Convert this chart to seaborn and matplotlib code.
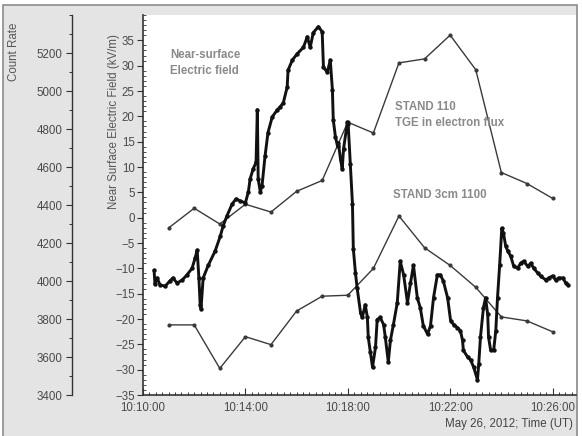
import matplotlib
matplotlib.use("Agg")
import matplotlib.pyplot as plt
import matplotlib.dates as mdates
from matplotlib.patches import Rectangle
from matplotlib.ticker import MultipleLocator
import seaborn as sns
import pandas as pd

# ---------------- data ----------------
day = "2012-05-26 "

efield_time = ["10:10:26","10:10:28","10:10:33","10:10:40","10:10:52","10:11:03","10:11:10","10:11:20",
    "10:11:32","10:11:43","10:11:55","10:12:02","10:12:07","10:12:11","10:12:14","10:12:16","10:12:21",
    "10:12:33","10:12:49","10:13:01","10:13:08","10:13:17","10:13:29","10:13:38","10:13:48","10:14:00",
    "10:14:07","10:14:11","10:14:18","10:14:25","10:14:28","10:14:30","10:14:35","10:14:39","10:14:46",
    "10:14:53","10:15:03","10:15:15","10:15:22","10:15:29","10:15:38","10:15:40","10:15:50","10:16:02",
    "10:16:16","10:16:25","10:16:32","10:16:39","10:16:51","10:17:00","10:17:03","10:17:12","10:17:19",
    "10:17:24","10:17:26","10:17:31","10:17:36","10:17:38","10:17:43","10:17:47","10:17:50","10:17:59",
    "10:18:01","10:18:06","10:18:11","10:18:13","10:18:18","10:18:22","10:18:30","10:18:34","10:18:41",
    "10:18:46","10:18:48","10:18:53","10:18:58","10:19:05","10:19:09","10:19:16","10:19:24","10:19:28",
    "10:19:35","10:19:40","10:19:47","10:19:56","10:20:03","10:20:11","10:20:20","10:20:27","10:20:34",
    "10:20:43","10:20:50","10:20:57","10:21:07","10:21:14","10:21:21","10:21:30","10:21:37","10:21:44",
    "10:21:54","10:22:01","10:22:08","10:22:17","10:22:24","10:22:29","10:22:31","10:22:41","10:22:48",
    "10:22:55","10:23:04","10:23:07","10:23:11","10:23:18","10:23:23","10:23:28","10:23:30","10:23:35",
    "10:23:42","10:23:47","10:23:51","10:23:56","10:24:01","10:24:05","10:24:10","10:24:15","10:24:22",
    "10:24:29","10:24:38","10:24:45","10:24:52","10:25:02","10:25:09","10:25:16","10:25:25","10:25:32",
    "10:25:44","10:25:51","10:26:00","10:26:07","10:26:14","10:26:24","10:26:31","10:26:36"]

efield_kvm = [-10.4,-13.1,-11.9,-13.3,-13.5,-12.5,-11.9,-12.9,
    -12.3,-11.3,-10.0,-8.0,-6.4,-11.9,-17.2,-18.0,-11.9,
    -9.4,-6.6,-3.7,-1.6,0.4,2.7,3.7,3.3,2.9,
    5.1,7.6,9.6,10.9,21.3,7.6,5.1,6.3,12.1,
    16.8,19.9,21.3,21.9,22.7,25.8,29.1,31.1,32.4,
    33.6,35.7,33.6,36.5,37.7,36.7,29.7,28.7,31.1,
    25.2,19.3,16.0,14.1,14.8,11.5,9.6,13.5,18.8,
    18.4,10.5,2.7,-6.1,-10.9,-13.9,-18.8,-19.7,-17.2,
    -19.7,-23.6,-26.6,-29.5,-25.6,-20.1,-19.7,-21.1,-23.6,
    -28.5,-24.2,-21.1,-16.8,-8.6,-11.3,-16.8,-12.9,-9.4,
    -15.8,-17.8,-21.3,-23.0,-21.3,-15.8,-11.3,-11.3,-12.5,
    -15.8,-20.3,-21.1,-21.7,-22.3,-24.2,-26.2,-27.5,-28.1,
    -29.5,-32.0,-28.9,-23.6,-17.8,-15.8,-19.1,-23.6,-26.2,
    -26.2,-22.3,-15.8,-9.4,-2.1,-3.1,-5.5,-6.6,-7.6,
    -9.6,-10.0,-9.0,-8.6,-9.6,-9.0,-10.0,-10.9,-11.5,
    -12.3,-11.9,-11.5,-12.3,-11.9,-11.9,-12.9,-13.3]

stand_time = ["10:11:00","10:12:00","10:13:00","10:14:00","10:15:00","10:16:00","10:17:00","10:18:00",
              "10:19:00","10:20:00","10:21:00","10:22:00","10:23:00","10:24:00","10:25:00","10:26:00"]
stand110_counts = [4279,4383,4300,4404,4363,4472,4529,4836,4779,5148,5169,5294,5112,4571,4513,4435]
stand3cm1100_counts = [3769,3769,3540,3707,3665,3842,3920,3925,4066,4342,4175,4082,3967,3811,3790,3733]

efield_df = pd.DataFrame({"time": pd.to_datetime([day + t for t in efield_time]), "E": efield_kvm})
stand_df = pd.DataFrame({"time": pd.to_datetime([day + t for t in stand_time]),
                         "s110": stand110_counts, "s3cm": stand3cm1100_counts})

# ---------------- figure ----------------
sns.set_theme(style="white")
plt.rcParams["font.family"] = ["Liberation Sans", "DejaVu Sans"]

W, H = 582, 436
fig = plt.figure(figsize=(W / 100, H / 100), dpi=100, facecolor="white")
fig.patches.append(Rectangle((3 / W, -0.02), (577 - 3) / W, 1 - 4.5 / H + 0.02,
                             transform=fig.transFigure, facecolor="#e4e4e4",
                             edgecolor="#8c8c8c", linewidth=1.2, zorder=-10))

L, R, T, B = 143, 576, 15, 395
ax_c = fig.add_axes([L / W, 1 - B / H, (R - L) / W, (B - T) / H])
ax_c.set_facecolor("white")
ax_e = ax_c.twinx()

line_col = "#3a3a3a"
sns.lineplot(data=stand_df, x="time", y="s110", ax=ax_c, color=line_col, linewidth=1.0,
             marker="o", markersize=3, markeredgewidth=0)
sns.lineplot(data=stand_df, x="time", y="s3cm", ax=ax_c, color=line_col, linewidth=1.0,
             marker="o", markersize=3, markeredgewidth=0)
sns.lineplot(data=efield_df, x="time", y="E", ax=ax_e, color="#111111", linewidth=2.1,
             marker="o", markersize=3.2, markeredgewidth=0)

x0 = pd.Timestamp(day + "10:10:00")
x1 = pd.Timestamp(day + "10:26:55")
ax_c.set_xlim(x0, x1)
ax_c.set_ylim(3400, 5400)
ax_e.set_ylim(-35, 40)

tick_col = "#4a4a4a"
fs = 8.3

# x axis
ax_c.xaxis.set_major_locator(mdates.MinuteLocator(byminute=[10, 14, 18, 22, 26]))
ax_c.xaxis.set_minor_locator(mdates.SecondLocator(bysecond=[0, 15, 30, 45]))
ax_c.xaxis.set_major_formatter(mdates.DateFormatter("%H:%M:%S"))
ax_c.tick_params(axis="x", which="major", direction="in", length=5, width=0.8,
                 color="#333333", labelsize=fs, labelcolor=tick_col, pad=5, bottom=True)
ax_c.tick_params(axis="x", which="minor", direction="in", length=2.5, width=0.7,
                 color="#333333", bottom=True)
ax_c.set_xlabel("")

# count axis (offset to the left)
ax_c.spines["left"].set_position(("axes", (72 - L) / (R - L)))
for s in ["top", "right"]:
    ax_c.spines[s].set_visible(False)
ax_c.spines["left"].set_color("#333333")
ax_c.spines["bottom"].set_color("#333333")
ax_c.spines["left"].set_linewidth(1.0)
ax_c.spines["bottom"].set_linewidth(1.2)
ax_c.yaxis.tick_left()
ax_c.yaxis.set_minor_locator(MultipleLocator(100))
ax_c.set_yticks([3400, 3600, 3800, 4000, 4200, 4400, 4600, 4800, 5000, 5200])
ax_c.tick_params(axis="y", which="major", direction="out", length=4, width=0.8,
                 color="#333333", labelsize=fs, labelcolor=tick_col, pad=3, left=True)
ax_c.tick_params(axis="y", which="minor", direction="out", length=2.5, width=0.7,
                 color="#333333", left=True)
ax_c.set_ylabel("Count Rate", fontsize=fs, color="#555555")
ax_c.yaxis.set_label_coords((20 - L) / (R - L), (B - 52) / (B - T))

# E-field axis
ax_e.yaxis.tick_left()
ax_e.yaxis.set_label_position("left")
for s in ["top", "right", "bottom"]:
    ax_e.spines[s].set_visible(False)
ax_e.spines["left"].set_visible(True)
ax_e.spines["left"].set_color("#333333")
ax_e.spines["left"].set_linewidth(1.2)
ax_e.set_yticks(list(range(-35, 36, 5)))
ax_e.yaxis.set_minor_locator(MultipleLocator(1))
ax_e.tick_params(axis="y", which="major", direction="out", length=4, width=0.8,
                 color="#333333", labelsize=fs, labelcolor=tick_col, pad=2, left=True, right=False)
ax_e.tick_params(axis="y", which="minor", direction="in", length=2.5, width=0.6,
                 color="#333333", left=True, right=False)
ax_e.set_ylabel("Near Surface Electric Field (kV/m)", fontsize=fs, color="#555555")
ax_e.yaxis.set_label_coords((120 - L) / (R - L), (B - 122) / (B - T))

# annotations
ann_col = "#8a8a8a"
fig.text(170 / W, 1 - 63 / H, "Near-surface\nElectric field", ha="left", va="center",
         fontsize=8.3, fontweight="bold", color=ann_col, linespacing=1.45)
fig.text(395 / W, 1 - 115 / H, "STAND 110\nTGE in electron flux", ha="left", va="center",
         fontsize=8.3, fontweight="bold", color=ann_col, linespacing=1.45)
fig.text(393 / W, 1 - 195 / H, "STAND 3cm 1100", ha="left", va="center",
         fontsize=8.3, fontweight="bold", color=ann_col)
fig.text(573 / W, 1 - 424 / H, "May 26, 2012; Time (UT)", ha="right", va="center",
         fontsize=fs, color="#444444")

fig.savefig("out.png", dpi=100, facecolor=fig.get_facecolor())
